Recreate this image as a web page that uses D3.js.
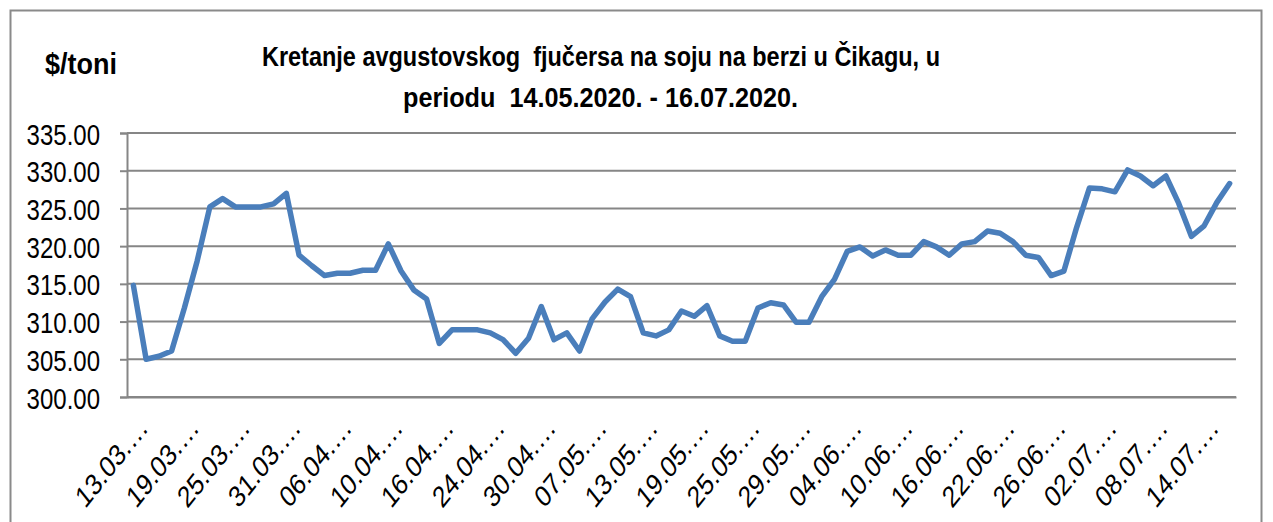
<!DOCTYPE html>
<html>
<head>
<meta charset="utf-8">
<script src="https://cdn.jsdelivr.net/npm/d3@7"></script>
<style>
  html, body { margin: 0; padding: 0; background: #fff; }
  svg { display: block; }
  text { font-family: "Liberation Sans", Arial, sans-serif; fill: #000; white-space: pre; }
</style>
</head>
<body>
<svg id="chart" width="1273" height="522"></svg>
<script>
// ---- data ----
const dates = [
  "13.03.2020.","16.03.2020.","17.03.2020.","18.03.2020.","19.03.2020.","20.03.2020.","23.03.2020.","24.03.2020.",
  "25.03.2020.","26.03.2020.","27.03.2020.","30.03.2020.","31.03.2020.","01.04.2020.","02.04.2020.","03.04.2020.",
  "06.04.2020.","07.04.2020.","08.04.2020.","09.04.2020.","10.04.2020.","13.04.2020.","14.04.2020.","15.04.2020.",
  "16.04.2020.","21.04.2020.","22.04.2020.","23.04.2020.","24.04.2020.","27.04.2020.","28.04.2020.","29.04.2020.",
  "30.04.2020.","04.05.2020.","05.05.2020.","06.05.2020.","07.05.2020.","08.05.2020.","11.05.2020.","12.05.2020.",
  "13.05.2020.","14.05.2020.","15.05.2020.","18.05.2020.","19.05.2020.","20.05.2020.","21.05.2020.","22.05.2020.",
  "25.05.2020.","26.05.2020.","27.05.2020.","28.05.2020.","29.05.2020.","01.06.2020.","02.06.2020.","03.06.2020.",
  "04.06.2020.","05.06.2020.","08.06.2020.","09.06.2020.","10.06.2020.","11.06.2020.","12.06.2020.","15.06.2020.",
  "16.06.2020.","17.06.2020.","18.06.2020.","19.06.2020.","22.06.2020.","23.06.2020.","24.06.2020.","25.06.2020.",
  "26.06.2020.","29.06.2020.","30.06.2020.","01.07.2020.","02.07.2020.","03.07.2020.","06.07.2020.","07.07.2020.",
  "08.07.2020.","09.07.2020.","10.07.2020.","13.07.2020.","14.07.2020.","15.07.2020.","16.07.2020."
];
const prices = [
  314.8, 305.0, 305.4, 306.1, 311.8, 318.0, 325.2, 326.3,
  325.2, 325.2, 325.2, 325.6, 327.0, 318.8, 317.4, 316.1,
  316.4, 316.4, 316.8, 316.8, 320.3, 316.7, 314.2, 313.0,
  307.1, 308.9, 308.9, 308.9, 308.5, 307.6, 305.8, 307.8,
  312.0, 307.6, 308.5, 306.1, 310.4, 312.6, 314.3, 313.3,
  308.5, 308.1, 308.9, 311.4, 310.7, 312.1, 308.1, 307.4,
  307.4, 311.8, 312.5, 312.2, 309.9, 309.9, 313.3, 315.6,
  319.3, 319.9, 318.7, 319.5, 318.8, 318.8, 320.6, 319.9,
  318.8, 320.3, 320.6, 322.0, 321.7, 320.6, 318.8, 318.5,
  316.1, 316.7, 322.5, 327.7, 327.6, 327.2, 330.1, 329.3,
  328.0, 329.3, 325.7, 321.3, 322.7, 325.8, 328.3
];
const yTicks = [300, 305, 310, 315, 320, 325, 330, 335];
const labelEvery = 4;
const titleLines = [
  "Kretanje avgustovskog  fjučersa na soju na berzi u Čikagu, u",
  "periodu  14.05.2020. - 16.07.2020."
];
const yUnit = "$/toni";

// ---- layout ----
const svg = d3.select("#chart");
const plot = { left: 127, right: 1236, top: 133, bottom: 397 };
const gridColor = "#868686";
const lineColor = "#4a7ebb";
const sx = 0.8; // horizontal squash of glyphs

// outer frame
svg.append("rect")
  .attr("x", 10.5).attr("y", 10.5)
  .attr("width", 1251).attr("height", 530)
  .attr("fill", "none").attr("stroke", "#8a8a8a").attr("stroke-width", 2);

const x = d3.scaleBand().domain(dates).range([plot.left, plot.right]).paddingInner(0).paddingOuter(0);
const y = d3.scaleLinear().domain([300, 335]).range([plot.bottom, plot.top]);

// gridlines
svg.append("g").selectAll("line").data(yTicks).join("line")
  .attr("x1", plot.left).attr("x2", plot.right)
  .attr("y1", d => y(d)).attr("y2", d => y(d))
  .attr("stroke", gridColor).attr("stroke-width", 2);

// y axis
const yAxis = svg.append("g")
  .attr("transform", `translate(${plot.left},0)`)
  .call(d3.axisLeft(y).tickValues(yTicks).tickFormat(d3.format(".2f")).tickSize(7).tickPadding(0));
yAxis.select(".domain").attr("stroke", gridColor).attr("stroke-width", 2);
yAxis.selectAll(".tick line").attr("stroke", gridColor).attr("stroke-width", 2);
yAxis.selectAll(".tick text")
  .attr("x", null).attr("dy", null)
  .attr("text-anchor", "end")
  .attr("font-size", 30)
  .attr("transform", `translate(-27,11) scale(${sx},1)`);

// x axis
const xAxis = svg.append("g")
  .attr("transform", `translate(0,${plot.bottom})`)
  .call(d3.axisBottom(x)
    .tickValues(dates.filter((d, i) => i % labelEvery === 0))
    .tickFormat(d => d.slice(0, 6) + "\u2026")
    .tickSize(0));
xAxis.select(".domain").attr("stroke", gridColor).attr("stroke-width", 2);
xAxis.selectAll(".tick text")
  .attr("y", null).attr("dy", null)
  .attr("text-anchor", "end")
  .attr("font-size", 30)
  .attr("transform", `translate(16,32) scale(${sx},1) rotate(-45)`);

// line
const line = d3.line()
  .x((d, i) => x(dates[i]) + x.bandwidth() / 2)
  .y(d => y(d));
svg.append("path")
  .datum(prices)
  .attr("d", line)
  .attr("fill", "none")
  .attr("stroke", lineColor)
  .attr("stroke-width", 5.5)
  .attr("stroke-linejoin", "round")
  .attr("stroke-linecap", "round");

// title
const tl = svg.append("g").attr("font-weight", "bold");
tl.append("text").text(titleLines[0])
  .attr("x", 601).attr("y", 65.5).attr("text-anchor", "middle")
  .attr("font-size", 27).attr("textLength", 678).attr("lengthAdjust", "spacingAndGlyphs");
tl.append("text").text(titleLines[1])
  .attr("x", 600.5).attr("y", 107).attr("text-anchor", "middle")
  .attr("font-size", 27).attr("textLength", 395).attr("lengthAdjust", "spacingAndGlyphs");
tl.append("text").text(yUnit)
  .attr("x", 45).attr("y", 74)
  .attr("font-size", 29).attr("textLength", 72).attr("lengthAdjust", "spacingAndGlyphs");
</script>
</body>
</html>
